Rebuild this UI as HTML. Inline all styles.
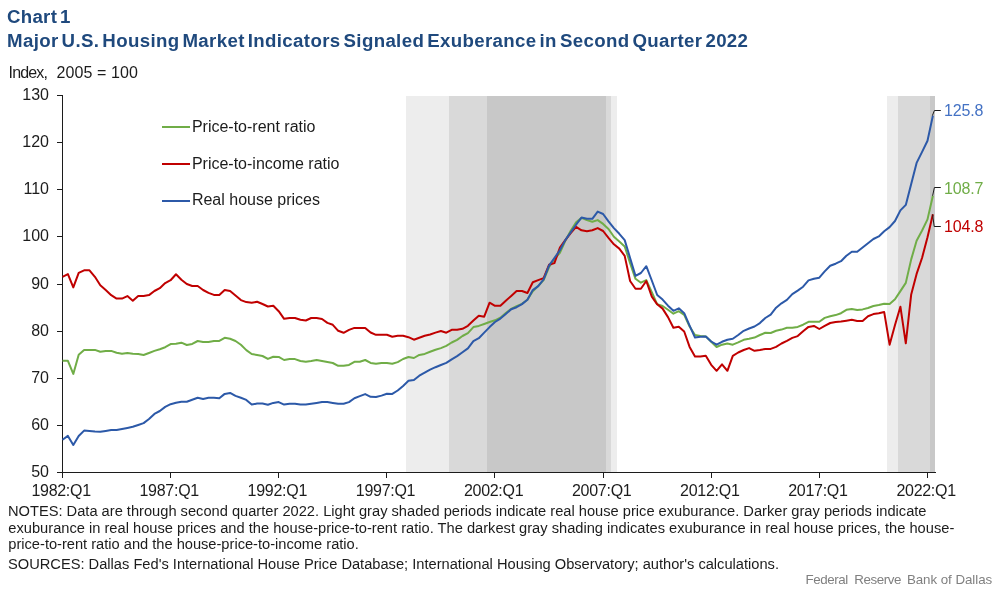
<!DOCTYPE html>
<html><head><meta charset="utf-8">
<style>
html,body{margin:0;padding:0;background:#fff;}
body{width:997px;height:589px;overflow:hidden;position:relative;font-family:"Liberation Sans",sans-serif;}
svg{position:absolute;left:0;top:0;will-change:transform;}
text{font-family:"Liberation Sans",sans-serif;}
</style></head><body>
<svg width="997" height="589" viewBox="0 0 997 589">
<rect width="997" height="589" fill="#fff"/>

<g shape-rendering="crispEdges">
<rect x="405.8" y="96" width="210.8" height="376.5" fill="#ededed"/>
<rect x="449.0" y="96" width="162.2" height="376.5" fill="#d9d9d9"/>
<rect x="486.9" y="96" width="118.9" height="376.5" fill="#c8c8c8"/>
<rect x="886.9" y="96" width="48.1" height="376.5" fill="#ededed"/>
<rect x="897.7" y="96" width="37.3" height="376.5" fill="#d9d9d9"/>
<rect x="930.2" y="96" width="4.8" height="376.5" fill="#c8c8c8"/>
</g>
<g fill="#1f497d" font-weight="bold" font-size="18.67px" word-spacing="-2.5">
<text x="7" y="23" textLength="63.5" lengthAdjust="spacing">Chart 1</text>
<text x="7" y="47" textLength="741" lengthAdjust="spacing">Major U.S. Housing Market Indicators Signaled Exuberance in Second Quarter 2022</text>
</g>
<g font-size="16px" fill="#1c1c1c"><text x="8.5" y="77.5" textLength="39.5" lengthAdjust="spacing">Index,</text><text x="56.5" y="77.5" textLength="81.5" lengthAdjust="spacing">2005 = 100</text></g>

<g stroke="#1c1c1c" stroke-width="1" shape-rendering="crispEdges" fill="none">
<line x1="62.5" y1="95" x2="62.5" y2="478.0"/>
<line x1="57" y1="472.5" x2="935.5" y2="472.5"/>
<line x1="57" y1="95.5" x2="62.5" y2="95.5"/>
<line x1="57" y1="142.5" x2="62.5" y2="142.5"/>
<line x1="57" y1="189.5" x2="62.5" y2="189.5"/>
<line x1="57" y1="236.5" x2="62.5" y2="236.5"/>
<line x1="57" y1="284.5" x2="62.5" y2="284.5"/>
<line x1="57" y1="331.5" x2="62.5" y2="331.5"/>
<line x1="57" y1="378.5" x2="62.5" y2="378.5"/>
<line x1="57" y1="425.5" x2="62.5" y2="425.5"/>
<line x1="57" y1="472.5" x2="62.5" y2="472.5"/>
<line x1="62.5" y1="472.5" x2="62.5" y2="478.0"/>
<line x1="170.5" y1="472.5" x2="170.5" y2="478.0"/>
<line x1="278.5" y1="472.5" x2="278.5" y2="478.0"/>
<line x1="386.5" y1="472.5" x2="386.5" y2="478.0"/>
<line x1="494.5" y1="472.5" x2="494.5" y2="478.0"/>
<line x1="603.5" y1="472.5" x2="603.5" y2="478.0"/>
<line x1="711.5" y1="472.5" x2="711.5" y2="478.0"/>
<line x1="819.5" y1="472.5" x2="819.5" y2="478.0"/>
<line x1="927.5" y1="472.5" x2="927.5" y2="478.0"/>
</g>
<g font-size="16px" fill="#1c1c1c" text-anchor="end">
<text x="49" y="100.3">130</text>
<text x="49" y="147.3">120</text>
<text x="49" y="194.3">110</text>
<text x="49" y="241.3">100</text>
<text x="49" y="289.3">90</text>
<text x="49" y="336.3">80</text>
<text x="49" y="383.3">70</text>
<text x="49" y="430.3">60</text>
<text x="49" y="477.3">50</text>
</g>
<g font-size="16px" fill="#1c1c1c">
<text x="31.4" y="496" textLength="59.7" lengthAdjust="spacing">1982:Q1</text>
<text x="139.5" y="496" textLength="59.7" lengthAdjust="spacing">1987:Q1</text>
<text x="247.6" y="496" textLength="59.7" lengthAdjust="spacing">1992:Q1</text>
<text x="355.8" y="496" textLength="59.7" lengthAdjust="spacing">1997:Q1</text>
<text x="463.9" y="496" textLength="59.7" lengthAdjust="spacing">2002:Q1</text>
<text x="572.0" y="496" textLength="59.7" lengthAdjust="spacing">2007:Q1</text>
<text x="680.1" y="496" textLength="59.7" lengthAdjust="spacing">2012:Q1</text>
<text x="788.2" y="496" textLength="59.7" lengthAdjust="spacing">2017:Q1</text>
<text x="896.4" y="496" textLength="59.7" lengthAdjust="spacing">2022:Q1</text>
</g>
<g stroke-width="2" fill="none">
<line x1="162" y1="127" x2="190" y2="127" stroke="#70ad47"/>
<line x1="162" y1="164" x2="190" y2="164" stroke="#c00000"/>
<line x1="162" y1="201" x2="190" y2="201" stroke="#2c59a8"/>
</g>
<g font-size="16px" fill="#1c1c1c">
<text x="191.9" y="131.6">Price-to-rent ratio</text>
<text x="191.9" y="168.9">Price-to-income ratio</text>
<text x="191.9" y="205.1">Real house prices</text>
</g>

<g fill="none" stroke-width="2" stroke-linejoin="round" stroke-linecap="butt">
<path d="M62.5 360.8 L67.9 360.8 L73.3 373.9 L78.7 354.7 L84.1 349.9 L89.5 349.9 L94.9 349.9 L100.3 351.8 L105.7 350.9 L111.2 350.9 L116.6 352.8 L122.0 353.8 L127.4 353.0 L132.8 353.8 L138.2 354.0 L143.6 355.0 L149.0 353.0 L154.4 350.9 L159.8 349.2 L165.2 347.2 L170.6 344.1 L176.0 343.8 L181.4 342.7 L186.8 345.0 L192.2 343.9 L197.7 341.0 L203.1 341.9 L208.5 341.9 L213.9 341.0 L219.3 340.9 L224.7 337.8 L230.1 338.8 L235.5 341.0 L240.9 344.8 L246.3 350.1 L251.7 354.0 L257.1 355.0 L262.5 356.0 L267.9 358.9 L273.3 356.7 L278.7 356.9 L284.1 360.0 L289.6 359.1 L295.0 359.1 L300.4 361.0 L305.8 361.8 L311.2 361.0 L316.6 360.0 L322.0 361.0 L327.4 362.0 L332.8 363.0 L338.2 365.8 L343.6 365.8 L349.0 364.9 L354.4 361.8 L359.8 361.8 L365.2 360.0 L370.6 362.9 L376.0 363.8 L381.5 362.9 L386.9 362.9 L392.3 363.8 L397.7 362.1 L403.1 359.0 L408.5 357.0 L413.9 358.0 L419.3 354.9 L424.7 353.9 L430.1 351.8 L435.5 349.8 L440.9 348.1 L446.3 345.9 L451.7 342.5 L457.1 339.9 L462.5 336.0 L467.9 333.1 L473.4 327.1 L478.8 325.9 L484.2 324.0 L489.6 322.0 L495.0 320.3 L500.4 317.7 L505.8 313.0 L511.2 308.9 L516.6 306.1 L522.0 303.8 L527.4 299.8 L532.8 291.3 L538.2 286.1 L543.6 280.1 L549.0 267.3 L554.4 258.8 L559.9 252.9 L565.3 240.9 L570.7 230.7 L576.1 222.2 L581.5 217.9 L586.9 220.1 L592.3 221.8 L597.7 220.1 L603.1 223.9 L608.5 229.0 L613.9 236.7 L619.3 241.4 L624.7 246.4 L630.1 263.1 L635.5 278.8 L640.9 282.7 L646.3 280.1 L651.8 292.1 L657.2 304.3 L662.6 306.0 L668.0 309.8 L673.4 313.7 L678.8 311.2 L684.2 314.9 L689.6 326.5 L695.0 335.0 L700.4 335.9 L705.8 336.4 L711.2 341.8 L716.6 347.0 L722.0 344.7 L727.4 343.5 L732.8 344.7 L738.2 342.4 L743.7 339.8 L749.1 338.8 L754.5 337.6 L759.9 335.0 L765.3 332.8 L770.7 333.0 L776.1 330.8 L781.5 329.6 L786.9 327.8 L792.3 327.8 L797.7 326.9 L803.1 324.7 L808.5 321.8 L813.9 321.8 L819.3 321.8 L824.7 317.9 L830.2 316.2 L835.6 315.1 L841.0 313.2 L846.4 309.8 L851.8 309.1 L857.2 310.1 L862.6 309.4 L868.0 308.0 L873.4 306.0 L878.8 305.0 L884.2 303.7 L889.6 304.0 L895.0 299.2 L900.4 291.1 L905.8 282.9 L911.2 259.4 L916.6 240.7 L922.1 230.5 L927.5 219.4 L932.9 195.8" stroke="#70ad47"/>
<path d="M62.5 276.8 L67.9 274.1 L73.3 287.4 L78.7 272.9 L84.1 270.3 L89.5 270.3 L94.9 276.8 L100.3 285.3 L105.7 290.0 L111.2 295.2 L116.6 298.6 L122.0 298.6 L127.4 296.1 L132.8 300.7 L138.2 295.9 L143.6 295.9 L149.0 295.1 L154.4 291.0 L159.8 288.2 L165.2 283.1 L170.6 280.2 L176.0 274.3 L181.4 279.7 L186.8 284.0 L192.2 286.0 L197.7 286.0 L203.1 290.0 L208.5 292.9 L213.9 294.9 L219.3 295.0 L224.7 290.0 L230.1 291.0 L235.5 295.5 L240.9 300.1 L246.3 302.1 L251.7 302.8 L257.1 301.8 L262.5 304.0 L267.9 306.5 L273.3 305.7 L278.7 311.2 L284.1 318.8 L289.6 318.0 L295.0 318.0 L300.4 319.8 L305.8 320.5 L311.2 318.0 L316.6 318.0 L322.0 319.0 L327.4 322.9 L332.8 324.8 L338.2 330.8 L343.6 332.8 L349.0 329.9 L354.4 327.9 L359.8 327.9 L365.2 327.9 L370.6 332.5 L376.0 334.8 L381.5 334.8 L386.9 334.8 L392.3 336.8 L397.7 335.8 L403.1 335.8 L408.5 337.2 L413.9 339.7 L419.3 337.7 L424.7 335.8 L430.1 334.5 L435.5 332.6 L440.9 331.0 L446.3 332.7 L451.7 329.8 L457.1 329.8 L462.5 328.8 L467.9 325.8 L473.4 320.6 L478.8 315.7 L484.2 316.7 L489.6 302.7 L495.0 305.8 L500.4 305.8 L505.8 300.7 L511.2 295.9 L516.6 291.0 L522.0 291.0 L527.4 293.0 L532.8 282.3 L538.2 280.1 L543.6 278.1 L549.0 264.8 L554.4 263.1 L559.9 247.7 L565.3 240.1 L570.7 233.2 L576.1 226.9 L581.5 230.3 L586.9 231.2 L592.3 230.3 L597.7 228.1 L603.1 231.0 L608.5 237.9 L613.9 244.3 L619.3 248.6 L624.7 255.9 L630.1 281.0 L635.5 288.7 L640.9 288.7 L646.3 281.0 L651.8 296.7 L657.2 304.3 L662.6 308.6 L668.0 317.1 L673.4 327.7 L678.8 326.8 L684.2 331.5 L689.6 346.9 L695.0 356.6 L700.4 356.6 L705.8 355.8 L711.2 364.8 L716.6 370.8 L722.0 364.3 L727.4 370.8 L732.8 355.8 L738.2 352.5 L743.7 350.0 L749.1 348.1 L754.5 350.8 L759.9 350.0 L765.3 348.9 L770.7 348.9 L776.1 346.9 L781.5 343.5 L786.9 340.9 L792.3 337.9 L797.7 336.1 L803.1 331.2 L808.5 326.9 L813.9 325.9 L819.3 329.0 L824.7 325.9 L830.2 323.0 L835.6 321.9 L841.0 321.6 L846.4 320.7 L851.8 319.8 L857.2 320.9 L862.6 320.9 L868.0 316.2 L873.4 314.1 L878.8 313.2 L884.2 312.1 L889.6 344.7 L895.0 325.0 L900.4 306.7 L905.8 343.3 L911.2 294.4 L916.6 273.9 L922.1 257.7 L927.5 237.3 L932.9 214.2" stroke="#c00000"/>
<path d="M62.5 439.8 L67.9 435.9 L73.3 444.9 L78.7 436.0 L84.1 430.6 L89.5 430.9 L94.9 431.6 L100.3 431.8 L105.7 430.9 L111.2 429.9 L116.6 429.9 L122.0 428.9 L127.4 427.9 L132.8 426.8 L138.2 425.0 L143.6 423.1 L149.0 419.0 L154.4 413.9 L159.8 411.0 L165.2 406.9 L170.6 404.2 L176.0 402.8 L181.4 401.8 L186.8 401.8 L192.2 399.7 L197.7 397.8 L203.1 398.9 L208.5 397.8 L213.9 397.8 L219.3 398.2 L224.7 393.9 L230.1 392.9 L235.5 395.9 L240.9 397.8 L246.3 399.9 L251.7 404.6 L257.1 403.6 L262.5 403.6 L267.9 404.8 L273.3 402.9 L278.7 402.1 L284.1 404.6 L289.6 403.8 L295.0 403.8 L300.4 404.6 L305.8 404.6 L311.2 403.8 L316.6 402.9 L322.0 401.9 L327.4 401.9 L332.8 402.9 L338.2 403.8 L343.6 403.8 L349.0 402.1 L354.4 398.2 L359.8 396.1 L365.2 394.1 L370.6 396.8 L376.0 397.0 L381.5 395.6 L386.9 393.8 L392.3 393.9 L397.7 390.5 L403.1 385.9 L408.5 380.8 L413.9 380.0 L419.3 375.7 L424.7 372.6 L430.1 369.6 L435.5 367.2 L440.9 365.0 L446.3 362.9 L451.7 359.3 L457.1 356.1 L462.5 352.2 L467.9 348.4 L473.4 341.1 L478.8 338.2 L484.2 332.6 L489.6 327.1 L495.0 322.0 L500.4 318.6 L505.8 314.0 L511.2 309.2 L516.6 307.2 L522.0 304.1 L527.4 299.8 L532.8 290.1 L538.2 286.1 L543.6 279.3 L549.0 265.6 L554.4 258.0 L559.9 250.3 L565.3 240.1 L570.7 232.4 L576.1 224.7 L581.5 217.6 L586.9 218.8 L592.3 218.8 L597.7 211.6 L603.1 214.0 L608.5 221.3 L613.9 228.1 L619.3 233.8 L624.7 240.1 L630.1 258.0 L635.5 275.9 L640.9 273.0 L646.3 266.2 L651.8 280.5 L657.2 295.0 L662.6 299.6 L668.0 305.7 L673.4 310.8 L678.8 308.3 L684.2 313.2 L689.6 325.6 L695.0 337.6 L700.4 336.7 L705.8 336.4 L711.2 341.5 L716.6 344.7 L722.0 341.8 L727.4 339.8 L732.8 338.8 L738.2 335.0 L743.7 330.8 L749.1 328.5 L754.5 326.5 L759.9 323.1 L765.3 318.0 L770.7 314.6 L776.1 307.7 L781.5 303.3 L786.9 299.9 L792.3 294.1 L797.7 290.6 L803.1 286.7 L808.5 280.4 L813.9 278.7 L819.3 277.7 L824.7 271.4 L830.2 265.8 L835.6 263.7 L841.0 261.2 L846.4 255.7 L851.8 251.8 L857.2 251.8 L862.6 247.5 L868.0 243.2 L873.4 239.0 L878.8 236.4 L884.2 231.3 L889.6 227.1 L895.0 221.0 L900.4 210.4 L905.8 204.9 L911.2 183.9 L916.6 162.9 L922.1 151.9 L927.5 140.8 L932.9 115.6" stroke="#2c59a8"/>
</g>
<g stroke="#1c1c1c" stroke-width="1" fill="none">
<path d="M932.4 115.6 L934.4 110.5 L940.8 110.5"/>
<path d="M932.6 195.8 L934.4 187.5 L940.8 187.5"/>
<path d="M932.6 214.5 L934.2 226.5 L940.8 226.5"/>
</g>
<g font-size="16px">
<text x="944" y="116" fill="#4472c4" textLength="39.3">125.8</text>
<text x="944" y="193.5" fill="#70ad47" textLength="39.3">108.7</text>
<text x="944" y="232" fill="#c00000" textLength="39.3">104.8</text>
</g>

<g font-size="14.67px" fill="#1c1c1c" xml:space="preserve">
<text x="8" y="515.5" textLength="918.5" lengthAdjust="spacing">NOTES: Data are through second quarter 2022.  Light gray shaded periods indicate real house price exuburance.  Darker gray periods indicate</text>
<text x="8.3" y="532.5" textLength="946" lengthAdjust="spacing">exuburance in real house prices and the house-price-to-rent ratio. The darkest gray shading indicates exuburance in real house prices, the house-</text>
<text x="8.3" y="548.8" textLength="350.5" lengthAdjust="spacing">price-to-rent ratio and the house-price-to-income ratio.</text>
<text x="8" y="568.9" textLength="771" lengthAdjust="spacing">SOURCES: Dallas Fed's International House Price Database; International Housing Observatory; author's calculations.</text>
</g>
<g font-size="13.33px" fill="#808080">
<text x="805.6" y="583.7" textLength="42.7" lengthAdjust="spacing">Federal</text>
<text x="854.3" y="583.7" textLength="47" lengthAdjust="spacing">Reserve</text>
<text x="906.9" y="583.7" textLength="85.3" lengthAdjust="spacing">Bank of Dallas</text>
</g>

</svg>
</body></html>
